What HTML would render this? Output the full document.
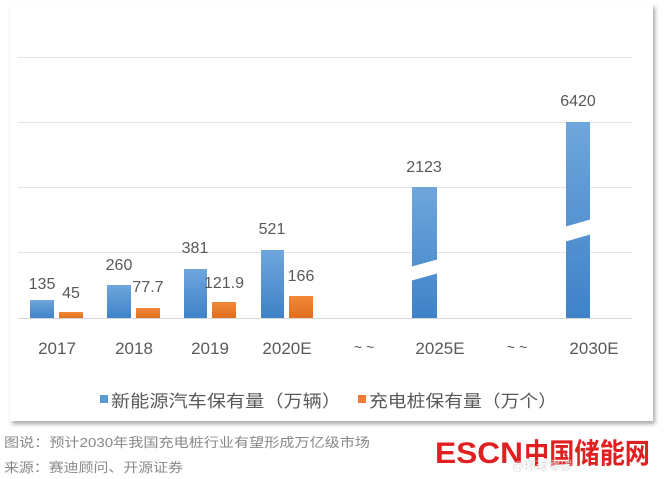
<!DOCTYPE html>
<html><head><meta charset="utf-8"><style>
body{margin:0;width:665px;height:479px;background:#fff;overflow:hidden;font-family:"Liberation Sans","Noto Sans CJK SC",sans-serif;}
</style></head><body>
<svg width="665" height="479" xmlns="http://www.w3.org/2000/svg" style="position:absolute;left:0;top:0">
<defs>
<linearGradient id="b" x1="0" y1="0" x2="0" y2="1"><stop offset="0" stop-color="#6fa6dc"/><stop offset="1" stop-color="#3f82c8"/></linearGradient>
<linearGradient id="o" x1="0" y1="0" x2="0" y2="1"><stop offset="0" stop-color="#f2883a"/><stop offset="1" stop-color="#e06e1c"/></linearGradient>
<filter id="s" x="-5%" y="-5%" width="110%" height="110%"><feDropShadow dx="2" dy="3" stdDeviation="2" flood-color="#000" flood-opacity="0.35"/></filter>
</defs>
<rect x="10" y="4" width="643" height="417" fill="#fff" filter="url(#s)"/>
<g stroke="#e3e3e3" stroke-width="1">
<line x1="18" x2="632" y1="57.5" y2="57.5"/><line x1="18" x2="632" y1="122.5" y2="122.5"/>
<line x1="18" x2="632" y1="187.5" y2="187.5"/><line x1="18" x2="632" y1="252.5" y2="252.5"/>
<line x1="18" x2="632" y1="318.5" y2="318.5" stroke="#d6d6d6"/></g>
<g fill="url(#b)">
<rect x="30" y="300" width="24" height="18"/><rect x="107" y="285" width="24" height="33"/>
<rect x="184" y="269" width="23" height="49"/><rect x="261" y="250" width="23" height="68"/>
<rect x="412" y="187" width="25" height="131"/><rect x="566" y="122" width="24" height="196"/></g>
<g fill="url(#o)">
<rect x="59" y="312" width="24" height="6"/><rect x="136" y="308" width="24" height="10"/>
<rect x="212" y="302" width="24" height="16"/><rect x="289" y="296" width="24" height="22"/></g>
<polygon points="410,267 439,259 439,273 410,281" fill="#fff"/>
<polygon points="564,227 592,219 592,234 564,242" fill="#fff"/>
<g fill="#595959" font-size="16" text-anchor="middle">
<text x="42" y="289">135</text><text x="71" y="298">45</text>
<text x="119" y="270">260</text><text x="148" y="292">77.7</text>
<text x="195" y="253">381</text><text x="224" y="288">121.9</text>
<text x="272" y="234">521</text><text x="301" y="281">166</text>
<text x="424" y="172">2123</text><text x="578" y="106">6420</text></g>
<g fill="#595959" font-size="17" text-anchor="middle">
<text x="57" y="354">2017</text><text x="134" y="354">2018</text><text x="210" y="354">2019</text>
<text x="287" y="354">2020E</text><text x="364" y="352" font-size="14">~ ~</text>
<text x="440" y="354">2025E</text><text x="517" y="352" font-size="14">~ ~</text><text x="594" y="354">2030E</text></g>
<rect x="100" y="395" width="8" height="8" fill="#5b9bd5"/>
<text x="111" y="407" font-size="17" fill="#595959" textLength="230" lengthAdjust="spacingAndGlyphs">新能源汽车保有量（万辆）</text>
<rect x="358" y="395" width="8" height="8" fill="#ed7d31"/>
<text x="369" y="407" font-size="17" fill="#595959" textLength="188" lengthAdjust="spacingAndGlyphs">充电桩保有量（万个）</text>
<text x="4" y="447" font-size="13" fill="#888" textLength="366" lengthAdjust="spacingAndGlyphs">图说：预计2030年我国充电桩行业有望形成万亿级市场</text>
<text x="4" y="472" font-size="13" fill="#888" textLength="179" lengthAdjust="spacingAndGlyphs">来源：赛迪顾问、开源证券</text>
<text x="435" y="463" font-size="30" font-weight="bold" fill="#e02020" textLength="88" lengthAdjust="spacingAndGlyphs">ESCN</text>
<text x="524" y="463" font-size="28" font-weight="bold" fill="#e02020" textLength="126" lengthAdjust="spacingAndGlyphs">中国储能网</text>
<text x="512" y="470" font-size="12" fill="#ddd">@环球零碳</text>
</svg>
</body></html>
